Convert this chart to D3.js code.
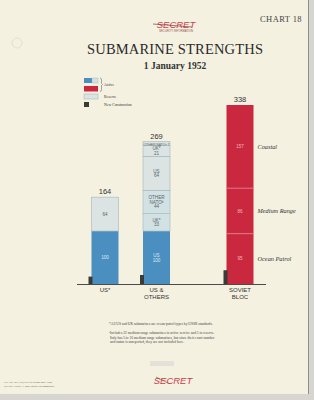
<!DOCTYPE html>
<html><head><meta charset="utf-8">
<script src="https://cdn.jsdelivr.net/npm/d3@7"></script>
<style>html,body{margin:0;padding:0;background:#d6d5cf;}svg{display:block;}</style>
</head><body>
<script>
// ---------- data ----------
const categories = ["US*", "US & OTHERS", "SOVIET BLOC"];
const categoryLines = [["US*"], ["US &", "OTHERS"], ["SOVIET", "BLOC"]];
const totals = [164, 269, 338];
const newConstruction = [14, 17, 26];

const usValues = [100, 64];
const usTypes = ["active", "reserve"];
const usLabels = [["100"], ["64"]];

const alliedValues = [100, 33, 44, 64, 21, 7];
const alliedTypes = ["active", "alliedActive", "alliedActive", "reserve", "reserve", "reserve"];
const alliedLabels = [["US", "100"], ["UK*", "33"], ["OTHER", "NATO\u1d47", "44"], ["US", "64"], ["UK*", "21"], ["OTHER NATO\u1d47 7"]];

const sovietValues = [95, 86, 157];
const sovietTypes = ["soviet", "soviet", "soviet"];
const sovietLabels = [["95"], ["86"], ["157"]];
const sovietSideLabels = ["Ocean Patrol", "Medium Range", "Coastal"];

const legendLabels = ["Active", "Reserve", "New Construction"];

const footnotes = [
  "*All US and UK submarines are ocean-patrol types by USSR standards.",
  "\u1d47Includes 22 medium range submarines in active service and 5 in reserve.",
  "Italy has 5 to 10 medium range submarines, but since their exact number",
  "and status is unreported, they are not included here."
];

// ---------- setup ----------
const W = 314, H = 400;
const colors = { active: "#4a8fc0", alliedActive: "#d2e1e4", reserve: "#dbe4e2", soviet: "#c9283f", nc: "#3a3a36" };
const svg = d3.select("body").append("svg").attr("width", W).attr("height", H);

// paper
svg.append("rect").attr("x", 0).attr("y", 0).attr("width", 308).attr("height", 394).attr("fill", "#f4f1e1");
svg.append("line").attr("x1", 308.5).attr("x2", 308.5).attr("y1", 0).attr("y2", 394).attr("stroke", "#8f8e88").attr("stroke-width", 1);
svg.append("circle").attr("cx", 17).attr("cy", 43).attr("r", 5).attr("fill", "none").attr("stroke", "#e2e0d4").attr("stroke-width", 1);

const serif = "'Liberation Serif', 'DejaVu Serif', serif";
const sans = "'Liberation Sans', Arial, sans-serif";

// header
svg.append("text").attr("x", 302).attr("y", 22).attr("text-anchor", "end").attr("font-family", serif)
  .attr("font-size", 8.5).attr("fill", "#444").attr("letter-spacing", 0.4).text("CHART 18");
svg.append("text").attr("x", 176).attr("y", 28).attr("text-anchor", "middle").attr("font-family", sans)
  .attr("font-style", "italic").attr("font-size", 9.5).attr("fill", "#d0404f").text("SECRET");
svg.append("line").attr("x1", 153).attr("y1", 24).attr("x2", 192).attr("y2", 27).attr("stroke", "#7a3a3a").attr("stroke-width", 0.7);
svg.append("text").attr("x", 176).attr("y", 32).attr("text-anchor", "middle").attr("font-family", sans)
  .attr("font-size", 2.8).attr("fill", "#a05050").text("SECURITY INFORMATION");
svg.append("text").attr("x", 175).attr("y", 54).attr("text-anchor", "middle").attr("font-family", serif)
  .attr("font-size", 14.5).attr("fill", "#2a2a2a").attr("textLength", 176).text("SUBMARINE  STRENGTHS");
svg.append("text").attr("x", 175).attr("y", 68.5).attr("text-anchor", "middle").attr("font-family", serif)
  .attr("font-size", 9.5).attr("font-weight", "bold").attr("fill", "#333").text("1 January 1952");

// legend
const lg = svg.append("g");
lg.append("rect").attr("x", 84).attr("y", 78).attr("width", 8).attr("height", 5).attr("fill", colors.active);
lg.append("rect").attr("x", 92).attr("y", 78).attr("width", 6).attr("height", 5).attr("fill", colors.alliedActive).attr("stroke", "#9fb2b6").attr("stroke-width", 0.4);
lg.append("rect").attr("x", 84).attr("y", 86).attr("width", 14).attr("height", 5.5).attr("fill", colors.soviet);
lg.append("path").attr("d", "M100,78 Q101.5,78 101.5,80 L101.5,83.5 L102.5,84.5 L101.5,85.5 L101.5,89.5 Q101.5,91.5 100,91.5").attr("fill", "none").attr("stroke", "#555").attr("stroke-width", 0.5);
lg.append("rect").attr("x", 84).attr("y", 94).attr("width", 14).attr("height", 5).attr("fill", colors.reserve).attr("stroke", "#9fb2b6").attr("stroke-width", 0.5);
lg.append("rect").attr("x", 84).attr("y", 102).attr("width", 5).attr("height", 5).attr("fill", colors.nc);
const legendY = [86, 98, 106];
lg.selectAll("text.lg").data(legendLabels).join("text").attr("class", "lg")
  .attr("x", 104).attr("y", (d, i) => legendY[i]).attr("font-family", serif).attr("font-size", 3.8).attr("fill", "#333").text(d => d);

// scales
const y = d3.scaleLinear().domain([0, 338]).range([284, 105]);
const x = d3.scaleOrdinal().domain(categories).range([105, 156.5, 240]);
const barW = 27;

const stacks = [
  { cat: categories[0], values: usValues, types: usTypes, labels: usLabels },
  { cat: categories[1], values: alliedValues, types: alliedTypes, labels: alliedLabels },
  { cat: categories[2], values: sovietValues, types: sovietTypes, labels: sovietLabels }
];

stacks.forEach((s, si) => {
  let cum = 0;
  const segs = s.values.map((v, i) => { const seg = { y0: cum, y1: cum + v, v, type: s.types[i], label: s.labels[i] }; cum += v; return seg; });
  const g = svg.append("g");
  const left = x(s.cat) - barW / 2;
  g.selectAll("rect.seg").data(segs).join("rect").attr("class", "seg")
    .attr("x", left).attr("width", barW)
    .attr("y", d => y(d.y1)).attr("height", d => y(d.y0) - y(d.y1))
    .attr("fill", d => colors[d.type])
    .attr("stroke", d => (d.type === "soviet" || d.type === "active") ? "none" : "#a4b6ba")
    .attr("stroke-width", 0.6);
  if (s.types[0] === "soviet") {
    g.selectAll("line.div").data(segs.slice(1)).join("line").attr("class", "div")
      .attr("x1", left).attr("x2", left + barW).attr("y1", d => y(d.y0)).attr("y2", d => y(d.y0))
      .attr("stroke", "#e3788a").attr("stroke-width", 0.9);
  }
  segs.forEach(d => {
    const n = d.label.length;
    const small = (y(d.y0) - y(d.y1)) < 6;
    const lh = 4.8;
    const cy = small ? y(d.y1) + 3 : (y(d.y0) + y(d.y1)) / 2;
    const light = d.type === "active" || d.type === "soviet";
    d.label.forEach((t, k) => {
      g.append("text").attr("x", x(s.cat)).attr("y", cy + (k - (n - 1) / 2) * lh + 1.6)
        .attr("text-anchor", "middle").attr("font-family", sans).attr("font-size", small ? 3.4 : 4.6)
        .attr("fill", light ? (d.type === "soviet" ? "#f1b7bf" : "#dceaf3") : "#5a6468").text(t);
    });
  });
  g.append("text").attr("x", x(s.cat)).attr("y", y(totals[si]) - 3).attr("text-anchor", "middle")
    .attr("font-family", sans).attr("font-size", 7.5).attr("fill", "#333").text(totals[si]);
  g.append("rect").attr("x", left - 3).attr("width", 4).attr("y", y(newConstruction[si])).attr("height", y(0) - y(newConstruction[si]))
    .attr("fill", colors.nc);
  categoryLines[si].forEach((t, k) => {
    g.append("text").attr("x", x(s.cat)).attr("y", 292 + k * 6.5).attr("text-anchor", "middle")
      .attr("font-family", sans).attr("font-size", 6).attr("fill", "#333").text(t);
  });
  if (s.types[0] === "soviet") {
    g.selectAll("text.side").data(segs).join("text").attr("class", "side")
      .attr("x", left + barW + 4).attr("y", d => (y(d.y0) + y(d.y1)) / 2 + 2)
      .attr("font-family", serif).attr("font-style", "italic").attr("font-size", 6.3).attr("fill", "#333")
      .text((d, i) => sovietSideLabels[i]);
  }
});

// baseline
svg.append("line").attr("x1", 77).attr("x2", 266).attr("y1", y(0) + 0.5).attr("y2", y(0) + 0.5).attr("stroke", "#4a4a48").attr("stroke-width", 1);

// footnotes
svg.selectAll("text.fn").data(footnotes).join("text").attr("class", "fn")
  .attr("x", (d, i) => i >= 2 ? 110 : 109).attr("y", (d, i) => [325, 334, 338.5, 343][i])
  .attr("font-family", serif).attr("font-size", 3.6).attr("fill", "#444").text(d => d);

// bottom stamps
svg.append("rect").attr("x", 150).attr("y", 361).attr("width", 24).attr("height", 5).attr("fill", "#e4e2d8");
svg.append("text").attr("x", 173).attr("y", 384).attr("text-anchor", "middle").attr("font-family", sans)
  .attr("font-style", "italic").attr("font-size", 9.5).attr("fill", "#cc3a4a").text("SECRET");
svg.append("line").attr("x1", 156).attr("y1", 377).attr("x2", 168).attr("y2", 383).attr("stroke", "#7a3a3a").attr("stroke-width", 0.6);
svg.append("text").attr("x", 4).attr("y", 383).attr("font-family", serif).attr("font-size", 2.8).attr("fill", "#555")
  .text("CHART WF-35 (Civil Revision May 1952");
svg.append("text").attr("x", 4).attr("y", 387).attr("font-family", serif).attr("font-size", 2.8).attr("fill", "#555")
  .text("SECRET Scale: 1 inch equals 70 submarines");
</script>
</body></html>
